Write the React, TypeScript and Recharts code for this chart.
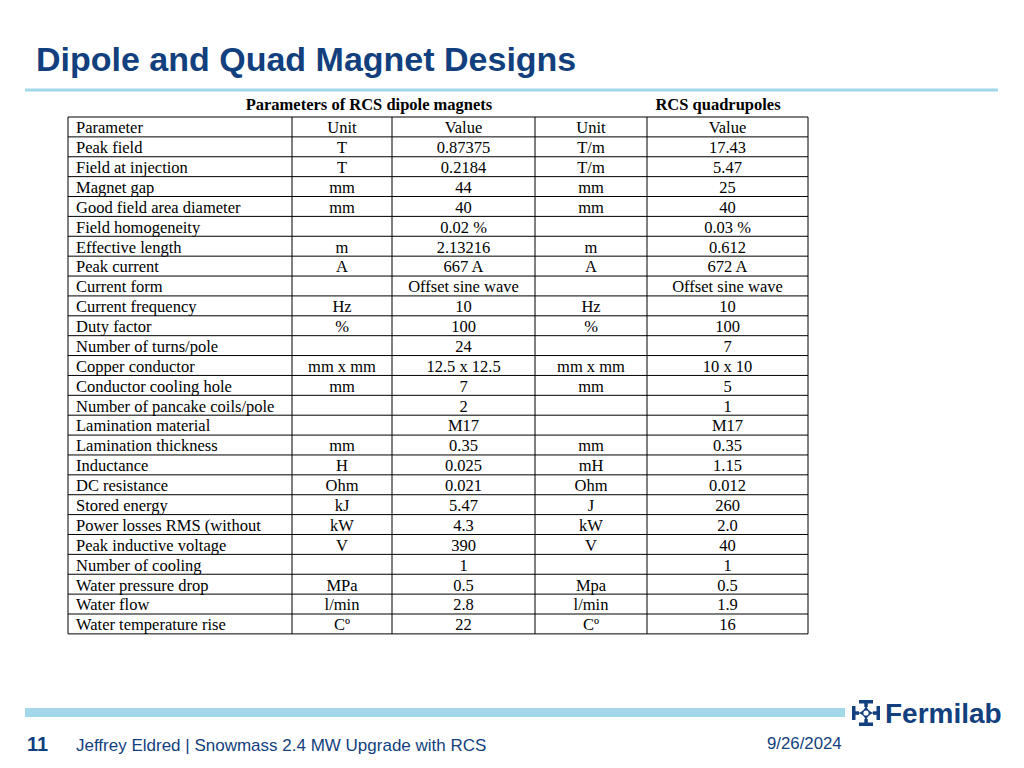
import React from 'react';
import { Surface, Layer, Text } from 'recharts';

// table content, row 0 is the header row
const PARAMS = [
  'Parameter', 'Peak field', 'Field at injection', 'Magnet gap', 'Good field area diameter',
  'Field homogeneity', 'Effective length', 'Peak current', 'Current form', 'Current frequency',
  'Duty factor', 'Number of turns/pole', 'Copper conductor', 'Conductor cooling hole',
  'Number of pancake coils/pole', 'Lamination material', 'Lamination thickness', 'Inductance',
  'DC resistance', 'Stored energy', 'Power losses RMS (without', 'Peak inductive voltage',
  'Number of cooling', 'Water pressure drop', 'Water flow', 'Water temperature rise',
];
const DIPOLE_UNITS = [
  'Unit', 'T', 'T', 'mm', 'mm', '', 'm', 'A', '', 'Hz', '%', '', 'mm x mm', 'mm', '', '', 'mm',
  'H', 'Ohm', 'kJ', 'kW', 'V', '', 'MPa', 'l/min', 'Cº',
];
const DIPOLE_VALUES = [
  'Value', '0.87375', '0.2184', '44', '40', '0.02 %', '2.13216', '667 A', 'Offset sine wave',
  '10', '100', '24', '12.5 x 12.5', '7', '2', 'M17', '0.35', '0.025', '0.021', '5.47', '4.3',
  '390', '1', '0.5', '2.8', '22',
];
const QUAD_UNITS = [
  'Unit', 'T/m', 'T/m', 'mm', 'mm', '', 'm', 'A', '', 'Hz', '%', '', 'mm x mm', 'mm', '', '', 'mm',
  'mH', 'Ohm', 'J', 'kW', 'V', '', 'Mpa', 'l/min', 'Cº',
];
const QUAD_VALUES = [
  'Value', '17.43', '5.47', '25', '40', '0.03 %', '0.612', '672 A', 'Offset sine wave',
  '10', '100', '7', '10 x 10', '5', '1', 'M17', '0.35', '1.15', '0.012', '260', '2.0',
  '40', '1', '0.5', '1.9', '16',
];

const W = 1024;
const H = 768;
const NAVY = '#123f7e';
const SKY = '#a2d8ea';
const SERIF = '"Liberation Serif", "Times New Roman", serif';
const SANS = '"Liberation Sans", Arial, sans-serif';

const TOP = 117;
const ROW_H = 19.88;
const COLS = [68, 292, 392, 535, 647, 808];
const CELL_FONT = 16.5;

function MagnetTable() {
  const n = PARAMS.length;
  const bottom = TOP + n * ROW_H;
  const columns = [PARAMS, DIPOLE_UNITS, DIPOLE_VALUES, QUAD_UNITS, QUAD_VALUES];

  return (
    <Layer>
      <text x={369} y={104} textAnchor="middle" dominantBaseline="central"
        fontFamily={SERIF} fontWeight="bold" fontSize={CELL_FONT} fill="#000">
        Parameters of RCS dipole magnets
      </text>
      <text x={718} y={104} textAnchor="middle" dominantBaseline="central"
        fontFamily={SERIF} fontWeight="bold" fontSize={CELL_FONT} fill="#000">
        RCS quadrupoles
      </text>

      {/* horizontal rules */}
      {Array.from({ length: n + 1 }).map((_, i) => (
        <line key={'h' + i} x1={COLS[0]} x2={COLS[5]} y1={TOP + i * ROW_H} y2={TOP + i * ROW_H}
          stroke="#000" strokeWidth={1} />
      ))}
      {/* vertical rules */}
      {COLS.map((x, i) => (
        <line key={'v' + i} x1={x} x2={x} y1={TOP} y2={bottom} stroke="#000" strokeWidth={1} />
      ))}

      {columns.map((col, c) =>
        col.map((label, r) => {
          if (!label) return null;
          const cy = TOP + r * ROW_H + ROW_H / 2 + 0.5;
          const isLeft = c === 0;
          const x = isLeft ? COLS[0] + 8 : (COLS[c] + COLS[c + 1]) / 2;
          return (
            <Text key={c + '-' + r} x={x} y={cy} textAnchor={isLeft ? 'start' : 'middle'}
              verticalAnchor="middle" fontFamily={SERIF} fontSize={CELL_FONT} fill="#000">
              {label}
            </Text>
          );
        })
      )}
    </Layer>
  );
}

function FermilabLogo() {
  const cx = 866;
  const cy = 713;
  return (
    <Layer>
      <g fill={NAVY}>
        {/* top and bottom bars with stems */}
        <rect x={859} y={700} width={14} height={3.5} />
        <rect x={864.3} y={700} width={3.5} height={7} />
        <rect x={859} y={722.5} width={14} height={3.5} />
        <rect x={864.3} y={719} width={3.5} height={7} />
        {/* left and right bars with stems */}
        <rect x={852} y={706} width={3.5} height={14} />
        <rect x={852} y={711.3} width={7} height={3.5} />
        <rect x={876.5} y={706} width={3.5} height={14} />
        <rect x={873} y={711.3} width={7} height={3.5} />
        {/* concave star core */}
        <path d={`M${cx} ${cy - 8} Q${cx + 1.5} ${cy - 1.5} ${cx + 8} ${cy} Q${cx + 1.5} ${cy + 1.5} ${cx} ${cy + 8} Q${cx - 1.5} ${cy + 1.5} ${cx - 8} ${cy} Q${cx - 1.5} ${cy - 1.5} ${cx} ${cy - 8} Z`} />
        <rect x={cx - 7} y={cy - 7} width={14} height={14} rx={7} fill="none" />
      </g>
      <path d={`M${cx - 7} ${cy - 7} h14 v14 h-14 Z`} fill={NAVY} opacity={0} />
      <circle cx={cx} cy={cy} r={2.6} fill="#fff" />
      <text x={885} y={723} fontFamily={SANS} fontWeight="bold" fontSize={28} fill={NAVY}>
        Fermilab
      </text>
    </Layer>
  );
}

export default function App() {
  return (
    <div style={{ position: 'absolute', left: 0, top: 0, width: W, height: H, background: '#fff' }}>
      <Surface width={W} height={H} viewBox={{ x: 0, y: 0, width: W, height: H }}>
        <rect x={0} y={0} width={W} height={H} fill="#fff" />
        <text x={36} y={71} fontFamily={SANS} fontWeight="bold" fontSize={34} fill={NAVY}>
          Dipole and Quad Magnet Designs
        </text>
        <rect x={25} y={88.5} width={973} height={3} fill={SKY} />

        <MagnetTable />

        <rect x={25} y={708} width={820} height={9} fill={SKY} />
        <FermilabLogo />
        <text x={27} y={751} fontFamily={SANS} fontWeight="bold" fontSize={20} fill={NAVY}>11</text>
        <text x={76} y={751} fontFamily={SANS} fontSize={17} fill={NAVY}>
          Jeffrey Eldred | Snowmass 2.4 MW Upgrade with RCS
        </text>
        <text x={767} y={749} fontFamily={SANS} fontSize={16.8} fill={NAVY}>9/26/2024</text>
      </Surface>
    </div>
  );
}
